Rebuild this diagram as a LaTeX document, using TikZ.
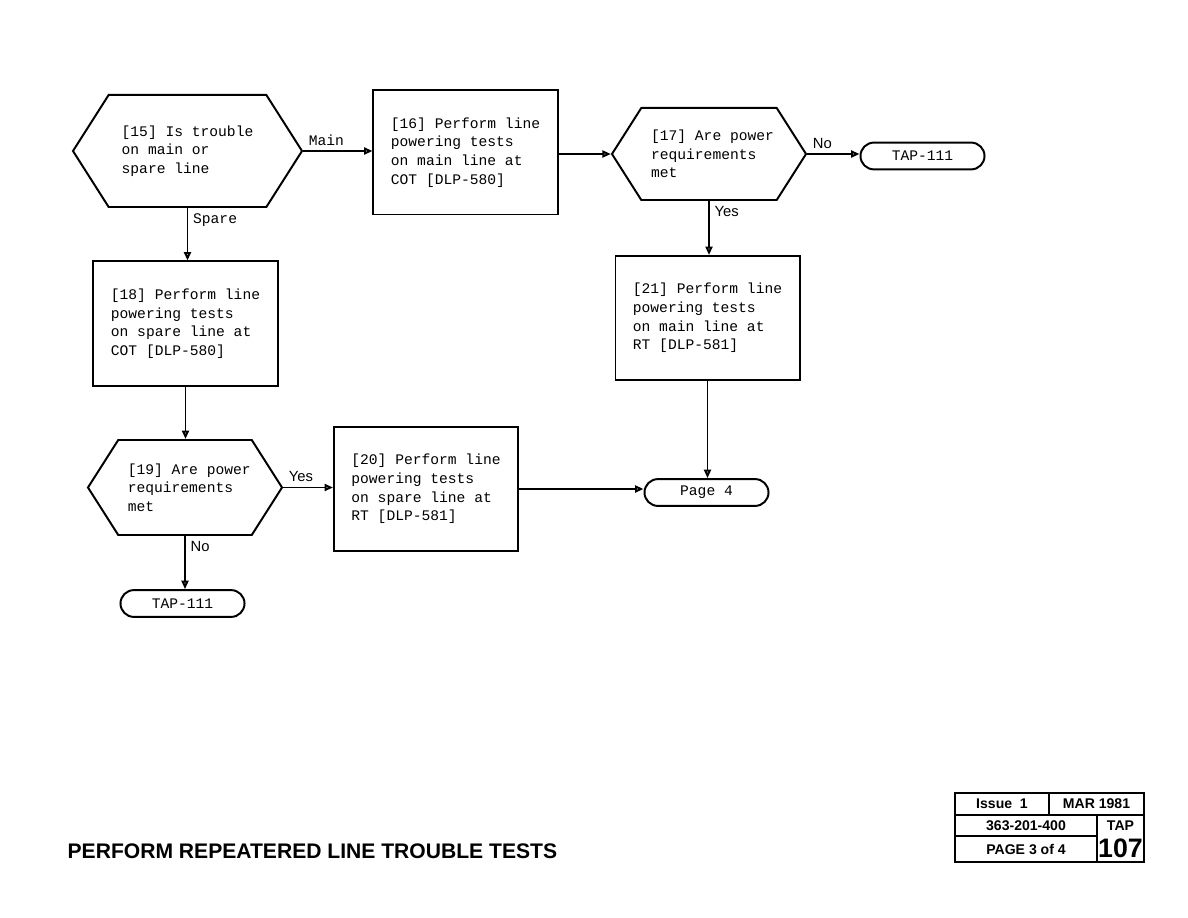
\documentclass[tikz,border=0pt]{standalone}
\usepackage{fontspec}
\setmonofont{Liberation Mono}
\setsansfont{Liberation Sans}
\usetikzlibrary{arrows.meta,shapes.symbols,shapes.misc}
\begin{document}
\begin{tikzpicture}[x=0.025cm,y=-0.025cm,>={Triangle[open,length=6pt,width=5pt]},
    line width=1.4pt,
    every node/.style={font=\ttfamily\fontsize{10.4}{13.2}\selectfont},
    box/.style={draw,align=left,minimum width=4.6cm,minimum height=3.1cm},
    hexa/.style={draw,signal,signal to=west and east,signal pointer angle=115,align=left,inner sep=0pt},
    term/.style={draw,rounded rectangle,minimum width=3.1cm,minimum height=0.67cm,inner sep=0pt},
    yn/.style={font=\sffamily\fontsize{10.5}{12}\selectfont}]
    \useasboundingbox (0,0) rectangle (1188,918);
    % decisions
    \node[hexa,minimum width=5.725cm,minimum height=2.8cm](h15) at (187.5,151){[15] Is trouble\\on main or\\spare line};
    \node[hexa,minimum width=4.85cm,minimum height=2.3cm](h17) at (709,154){\hspace*{5pt}[17] Are power\\\hspace*{5pt}requirements\\\hspace*{5pt}met};
    \node[hexa,minimum width=4.85cm,minimum height=2.375cm](h19) at (185,487.5){\hspace*{6pt}[19] Are power\\\hspace*{6pt}requirements\\\hspace*{6pt}met};
    % tests
    \node[box](b16) at (465.5,152.5){[16] Perform line\\powering tests\\on main line at\\COT [DLP-580]};
    \node[box](b18) at (185.5,323.5){[18] Perform line\\powering tests\\on spare line at\\COT [DLP-580]};
    \node[box](b20) at (426,489){[20] Perform line\\powering tests\\on spare line at\\RT [DLP-581]};
    \node[box](b21) at (707.5,318){[21] Perform line\\powering tests\\on main line at\\RT [DLP-581]};
    % exits
    \node[term](t17) at (922.5,156){TAP-111};
    \node[term](t19) at (182.5,603.5){TAP-111};
    \node[term](pg4) at (706.5,492.5){Page 4};
    % flow
    \draw[->](h15.east)--(h15.east-|b16.west)node[pos=0,above right]{Main};
    \draw[->](h15.south)--(h15.south|-b18.north)node[pos=0,below right]{Spare};
    \draw[->](h17.west-|b16.east)--(h17.west);
    \draw[->](h17.east)--(h17.east-|t17.west)node[yn,pos=0,above right]{No};
    \draw[->](h17.south)--(h17.south|-b21.north)node[yn,pos=0,below right]{Yes};
    \draw[->](b21.south)--(b21.south|-pg4.north);
    \draw[->](b18.south)--(b18.south|-h19.north);
    \draw[->](h19.east)--(h19.east-|b20.west)node[yn,pos=0,above right]{Yes};
    \draw[->](h19.south)--(h19.south|-t19.north)node[yn,pos=0,below right]{No};
    \draw[->](b20.east)--(b20.east-|pg4.west);
    % title
    \node[font=\sffamily\bfseries\fontsize{15}{18}\selectfont,anchor=west](ttl) at (62,851){PERFORM REPEATERED LINE TROUBLE TESTS};
    \draw(955,793)rectangle(1144,862);
    \draw(955,815)--(1144,815);
    \draw(955,836)--(1097,836);
    \draw(1049,793)--(1049,815);
    \draw(1097,815)--(1097,862);
    \begin{scope}[every node/.style={font=\sffamily\bfseries\fontsize{10}{12}\selectfont}]
        \node(iss) at (1002,804){Issue\ \ 1};
        \node(dat) at (1096.5,804){MAR 1981};
        \node(num) at (1026,825.5){363-201-400};
        \node(sec) at (1120.5,825.5){TAP};
        \node(pag) at (1026,849){PAGE 3 of 4};
        \node[font=\sffamily\bfseries\fontsize{19}{20}\selectfont](pno) at (1120.5,848){107};
    \end{scope}
\end{tikzpicture}
\end{document}
